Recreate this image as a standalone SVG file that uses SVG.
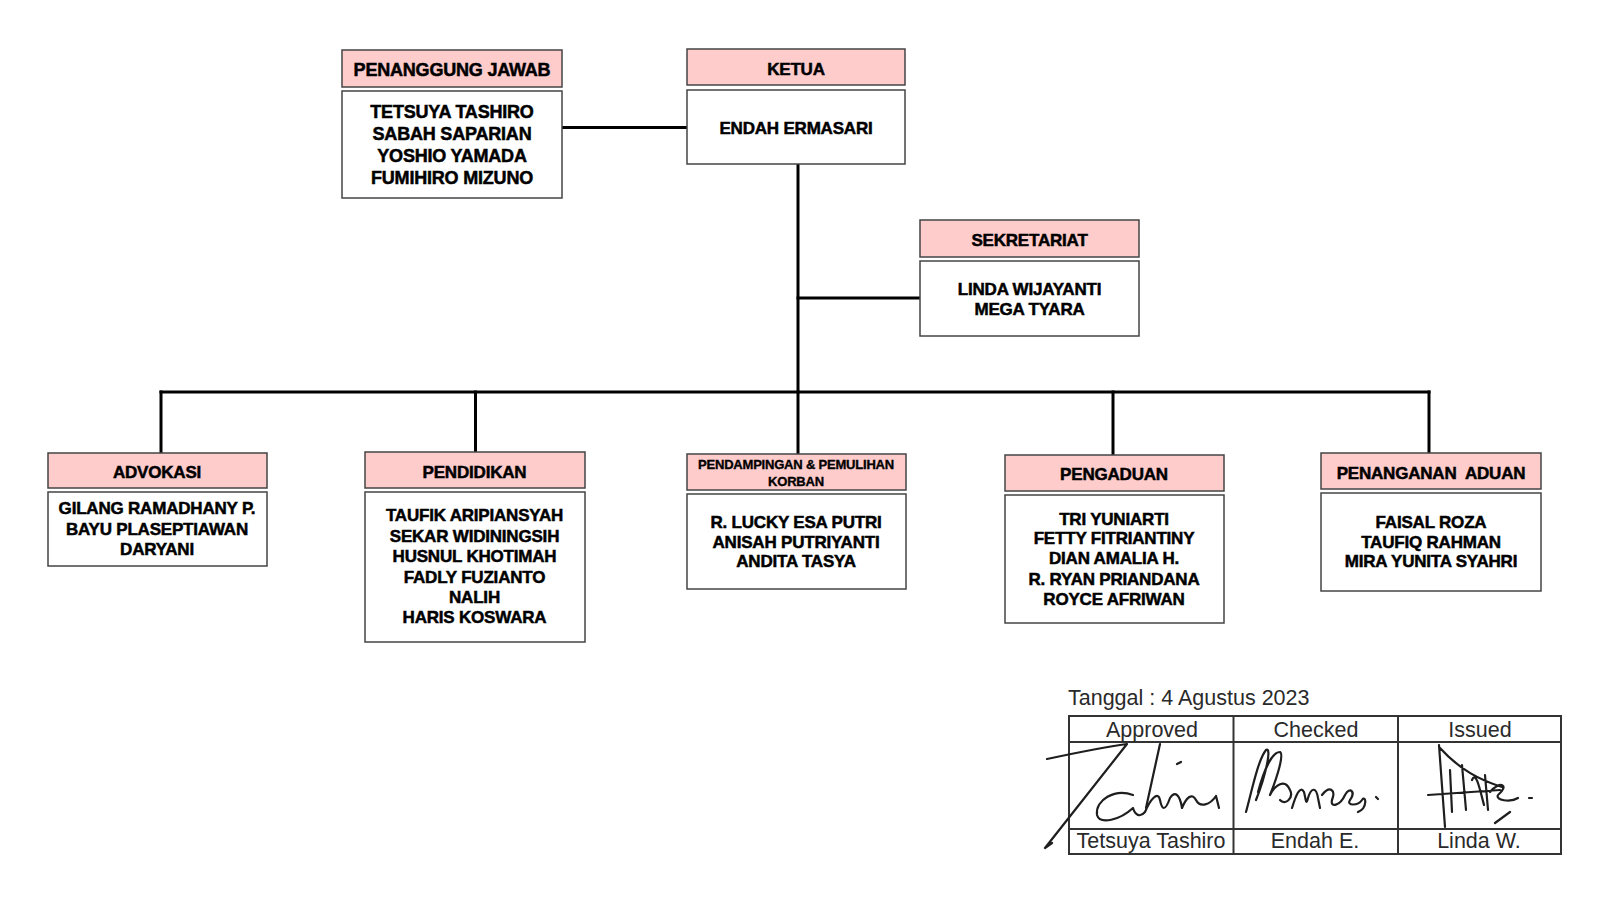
<svg xmlns="http://www.w3.org/2000/svg" width="1600" height="898" viewBox="0 0 1600 898">
<style>
.hd{fill:#FFCCCC;stroke:#444;stroke-width:1.5}
.bd{fill:#fff;stroke:#444;stroke-width:1.5}
.t{font-family:"Liberation Sans",Arial,sans-serif;font-weight:bold;fill:#000;stroke:#000;stroke-width:0.5;text-anchor:middle;letter-spacing:-0.2px}
.t17{font-size:17px}
.t18{font-size:18px}
.t13{font-size:13px;stroke-width:0.35}
.cn{stroke:#000;stroke-width:3;fill:none;stroke-linecap:square}
.tb{fill:none;stroke:#333;stroke-width:2}
.s{font-family:"Liberation Sans",Arial,sans-serif;font-size:21.5px;fill:#2a2a2a;text-anchor:middle}
.sig{fill:none;stroke:#1e1e1e;stroke-width:2.2;stroke-linecap:round;stroke-linejoin:round}
</style>
<rect width="1600" height="898" fill="#fff"/>

<g id="connectors">
<line class="cn" x1="562" y1="127.5" x2="687" y2="127.5"/>
<line class="cn" x1="798" y1="164" x2="798" y2="392"/>
<line class="cn" x1="798" y1="298" x2="920" y2="298"/>
<line class="cn" x1="161" y1="392" x2="1429" y2="392"/>
<line class="cn" x1="161" y1="392" x2="161" y2="453"/>
<line class="cn" x1="475.5" y1="392" x2="475.5" y2="452"/>
<line class="cn" x1="798" y1="392" x2="798" y2="454"/>
<line class="cn" x1="1113" y1="392" x2="1113" y2="455"/>
<line class="cn" x1="1429" y1="392" x2="1429" y2="453"/>
</g>

<g id="penanggung-jawab">
<rect class="hd" x="342" y="50" width="220" height="37"/>
<text class="t t18" x="452" y="75.5">PENANGGUNG JAWAB</text>
<rect class="bd" x="342" y="91" width="220" height="107"/>
<text class="t t18" x="452" y="117.5">TETSUYA TASHIRO</text>
<text class="t t18" x="452" y="139.5">SABAH SAPARIAN</text>
<text class="t t18" x="452" y="161.5">YOSHIO YAMADA</text>
<text class="t t18" x="452" y="183.5">FUMIHIRO MIZUNO</text>
</g>

<g id="ketua">
<rect class="hd" x="687" y="49" width="218" height="36"/>
<text class="t t17" x="796" y="74.5">KETUA</text>
<rect class="bd" x="687" y="90" width="218" height="74"/>
<text class="t t17" x="796" y="133.5">ENDAH ERMASARI</text>
</g>

<g id="sekretariat">
<rect class="hd" x="920" y="220" width="219" height="37"/>
<text class="t t17" x="1029.5" y="246">SEKRETARIAT</text>
<rect class="bd" x="920" y="261" width="219" height="75"/>
<text class="t t17" x="1029.5" y="295">LINDA WIJAYANTI</text>
<text class="t t17" x="1029.5" y="315.4">MEGA TYARA</text>
</g>

<g id="advokasi">
<rect class="hd" x="48" y="453" width="219" height="35"/>
<text class="t t17" x="157" y="477.5">ADVOKASI</text>
<rect class="bd" x="48" y="492" width="219" height="74"/>
<text class="t t17" x="157" y="514">GILANG RAMADHANY P.</text>
<text class="t t17" x="157" y="534.6">BAYU PLASEPTIAWAN</text>
<text class="t t17" x="157" y="555">DARYANI</text>
</g>

<g id="pendidikan">
<rect class="hd" x="365" y="452" width="220" height="36"/>
<text class="t t17" x="474.5" y="477.5">PENDIDIKAN</text>
<rect class="bd" x="365" y="492" width="220" height="150"/>
<text class="t t17" x="474.5" y="521.4">TAUFIK ARIPIANSYAH</text>
<text class="t t17" x="474.5" y="541.8">SEKAR WIDININGSIH</text>
<text class="t t17" x="474.5" y="562.2">HUSNUL KHOTIMAH</text>
<text class="t t17" x="474.5" y="582.6">FADLY FUZIANTO</text>
<text class="t t17" x="474.5" y="603">NALIH</text>
<text class="t t17" x="474.5" y="623.4">HARIS KOSWARA</text>
</g>

<g id="pendampingan">
<rect class="hd" x="687" y="454" width="219" height="36"/>
<text class="t t13" x="796" y="468.7">PENDAMPINGAN &amp; PEMULIHAN</text>
<text class="t t13" x="796" y="485.5">KORBAN</text>
<rect class="bd" x="687" y="494" width="219" height="95"/>
<text class="t t17" x="796" y="527.5">R. LUCKY ESA PUTRI</text>
<text class="t t17" x="796" y="547.9">ANISAH PUTRIYANTI</text>
<text class="t t17" x="796" y="567.3">ANDITA TASYA</text>
</g>

<g id="pengaduan">
<rect class="hd" x="1005" y="455" width="219" height="36"/>
<text class="t t17" x="1114" y="479.6">PENGADUAN</text>
<rect class="bd" x="1005" y="495" width="219" height="128"/>
<text class="t t17" x="1114" y="524.5">TRI YUNIARTI</text>
<text class="t t17" x="1114" y="543.9">FETTY FITRIANTINY</text>
<text class="t t17" x="1114" y="564.1">DIAN AMALIA H.</text>
<text class="t t17" x="1114" y="584.7">R. RYAN PRIANDANA</text>
<text class="t t17" x="1114" y="605.1">ROYCE AFRIWAN</text>
</g>

<g id="penanganan-aduan">
<rect class="hd" x="1321" y="453" width="220" height="36"/>
<text class="t t17" x="1431" y="478.6" style="white-space:pre">PENANGANAN  ADUAN</text>
<rect class="bd" x="1321" y="493" width="220" height="98"/>
<text class="t t17" x="1431" y="527.5">FAISAL ROZA</text>
<text class="t t17" x="1431" y="547.9">TAUFIQ RAHMAN</text>
<text class="t t17" x="1431" y="567.3">MIRA YUNITA SYAHRI</text>
</g>

<g id="approval">
<text class="s" x="1068" y="705" style="text-anchor:start">Tanggal : 4 Agustus 2023</text>
<rect class="tb" x="1069" y="716" width="492" height="138"/>
<line class="tb" x1="1069" y1="742" x2="1561" y2="742"/>
<line class="tb" x1="1069" y1="829" x2="1561" y2="829"/>
<line class="tb" x1="1233.5" y1="716" x2="1233.5" y2="854"/>
<line class="tb" x1="1398" y1="716" x2="1398" y2="854"/>
<text class="s" x="1152" y="737">Approved</text>
<text class="s" x="1316" y="737">Checked</text>
<text class="s" x="1480" y="737">Issued</text>
<text class="s" x="1151" y="848">Tetsuya Tashiro</text>
<text class="s" x="1315" y="848">Endah E.</text>
<text class="s" x="1479" y="848">Linda W.</text>
<path class="sig" d="M1047,759 C1080,752 1105,747 1127,744 L1045,848 L1052,843"/>
<path class="sig" d="M1160,744 L1146,808"/>
<path class="sig" d="M1177,764 l4,-2"/>
<path class="sig" d="M1133,795 C1115,788 1095,800 1097,815 C1100,825 1120,820 1133,808 C1135,815 1140,818 1145,812 C1150,800 1158,790 1160,800 C1162,810 1165,812 1170,798 C1175,790 1180,795 1182,808 C1186,798 1192,792 1196,800 C1200,808 1210,805 1216,796 L1219,808"/>
<path class="sig" d="M1246,812 C1252,790 1258,760 1266,750 C1272,746 1266,775 1256,800 M1258,792 C1264,770 1272,752 1280,752 C1284,754 1278,775 1270,795 C1275,785 1285,778 1290,790 C1294,798 1285,806 1280,800 M1292,808 C1296,795 1300,785 1304,792 C1306,800 1306,806 1308,798 C1311,788 1316,786 1318,798 L1320,808 M1322,795 C1330,785 1336,790 1332,800 C1330,808 1340,806 1345,795 C1350,786 1356,792 1350,800 C1346,806 1358,806 1362,800 C1366,794 1368,808 1358,812 M1376,797 l2,2"/>
<path class="sig" d="M1439,745 L1445,827 M1440,748 C1460,770 1480,780 1502,787 M1428,795 L1500,790 M1450,770 L1452,812 M1462,765 L1466,810 M1472,780 C1476,770 1480,790 1484,805 M1485,775 L1488,810 M1490,792 C1500,780 1510,785 1498,795 C1495,800 1510,803 1518,798 M1529,798 l3,0 M1495,823 L1510,812"/>
</g>
</svg>
